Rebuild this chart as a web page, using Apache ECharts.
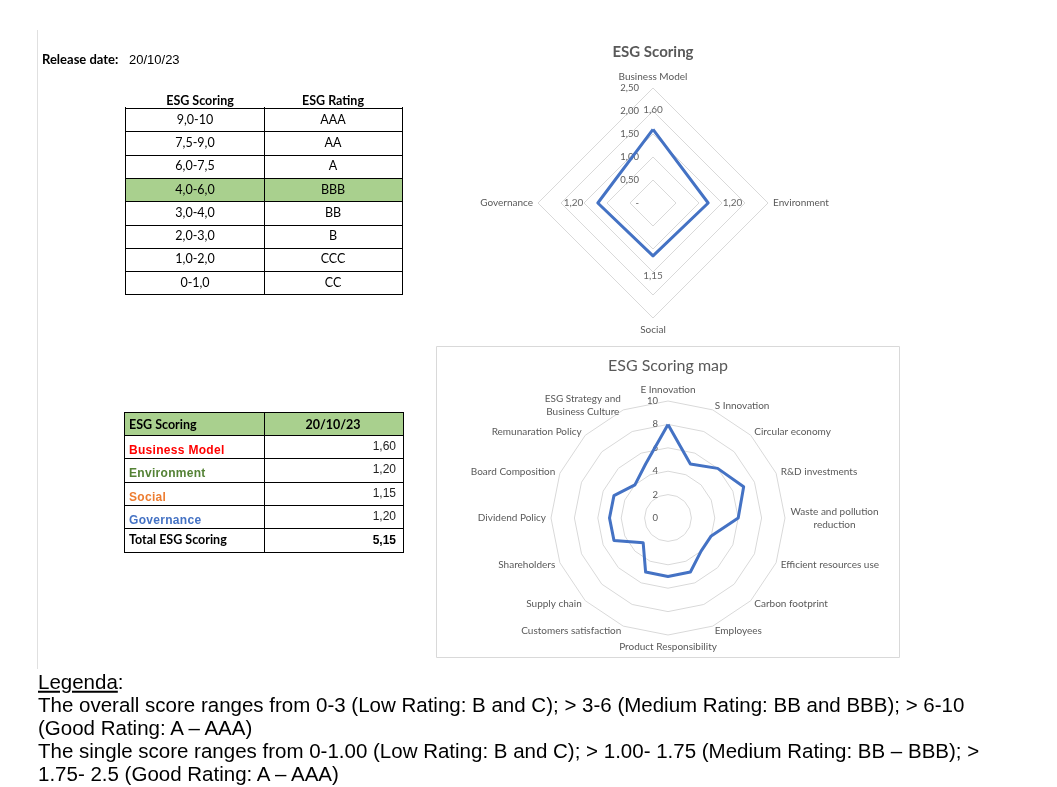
<!DOCTYPE html>
<html>
<head>
<meta charset="utf-8">
<title>ESG Scoring</title>
<script src="https://cdn.jsdelivr.net/npm/echarts@6.0.0/dist/echarts.min.js"></script>
<style>
  html,body{margin:0;padding:0;background:#fff;}
  body{width:1057px;height:787px;position:relative;overflow:hidden;}
  #chart{position:absolute;left:0;top:0;width:1057px;height:787px;}
  #overlay{position:absolute;left:0;top:0;width:1057px;height:787px;}
  .t{position:absolute;white-space:nowrap;line-height:1;}
  .cal{font-family:Lato,'Noto Sans',sans-serif;}
  .ari{font-family:'Liberation Sans',Arial,sans-serif;}
  .ln{position:absolute;background:#000;}
  .bx{position:absolute;}
</style>
</head>
<body>
<div id="chart"></div>
<div id="overlay"></div>
<script>
// ---------------- data ----------------
const releaseLabel = 'Release date:';
const releaseDate = '20/10/23';
const scaleHeaders = ['ESG Scoring', 'ESG Rating'];
const scoreRanges = ['9,0-10', '7,5-9,0', '6,0-7,5', '4,0-6,0', '3,0-4,0', '2,0-3,0', '1,0-2,0', '0-1,0'];
const ratingGrades = ['AAA', 'AA', 'A', 'BBB', 'BB', 'B', 'CCC', 'CC'];
const currentGrade = 'BBB';

const summaryHeaders = ['ESG Scoring', '20/10/23'];
const pillarNames = ['Business Model', 'Environment', 'Social', 'Governance'];
const pillarScores = [1.60, 1.20, 1.15, 1.20];
const totalLabel = 'Total ESG Scoring';
const totalScore = 5.15;
const pillarMax = 2.5;

const mapNames = ['E Innovation', 'S Innovation', 'Circular economy', 'R&D investments',
  'Waste and pollution\nreduction', 'Efficient resources use', 'Carbon footprint', 'Employees',
  'Product Responsibility', 'Customers satisfaction', 'Supply chain', 'Shareholders',
  'Dividend Policy', 'Board Composition', 'Remunaration Policy', 'ESG Strategy and\nBusiness Culture'];
const mapScores = [8, 5, 6, 7, 6, 4, 4, 5, 5, 5, 3, 5, 5, 5, 4, 5];
const mapMax = 10;

const chartTitles = ['ESG Scoring', 'ESG Scoring map'];
const legendTitle = 'Legenda';
const legendLines = [
  'The overall score ranges from 0-3 (Low Rating: B and C); > 3-6 (Medium Rating: BB and BBB); > 6-10',
  '(Good Rating: A \u2013 AAA)',
  'The single score ranges from 0-1.00 (Low Rating: B and C); > 1.00- 1.75 (Medium Rating: BB \u2013 BBB); >',
  '1.75- 2.5 (Good Rating: A \u2013 AAA)'
];

// ---------------- styles ----------------
const pillarColors = ['#FF0000', '#548235', '#ED7D31', '#4472C4'];
const pillarLabelPos = ['top', 'right', 'bottom', 'left'];
const lineBlue = '#4472C4', gridGrey = '#D9D9D9', textGrey = '#595959';

// ---------------- HTML part (tables, texts) ----------------
const overlay = document.getElementById('overlay');
function put(text, x, y, o) {
  o = o || {};
  const d = document.createElement('div');
  d.className = 't ' + (o.cls || 'cal');
  d.textContent = text;
  const ax = o.align === 'center' ? -50 : (o.align === 'right' ? -100 : 0);
  d.style.left = x + 'px';
  d.style.top = y + 'px';
  d.style.transform = 'translate(' + ax + '%,-50%)';
  d.style.fontSize = (o.size || 12) + 'px';
  if (o.bold) d.style.fontWeight = 'bold';
  d.style.color = o.color || '#000';
  if (o.ls) d.style.letterSpacing = o.ls + 'px';
  overlay.appendChild(d);
  return d;
}
function hline(x1, x2, y, c) {
  const d = document.createElement('div'); d.className = 'ln';
  d.style.left = x1 + 'px'; d.style.top = y + 'px'; d.style.width = (x2 - x1 + 1) + 'px'; d.style.height = '1px';
  if (c) d.style.background = c; overlay.appendChild(d);
}
function vline(x, y1, y2, c) {
  const d = document.createElement('div'); d.className = 'ln';
  d.style.left = x + 'px'; d.style.top = y1 + 'px'; d.style.height = (y2 - y1 + 1) + 'px'; d.style.width = '1px';
  if (c) d.style.background = c; overlay.appendChild(d);
}
function box(x, y, w, h, c) {
  const d = document.createElement('div'); d.className = 'bx';
  d.style.left = x + 'px'; d.style.top = y + 'px'; d.style.width = w + 'px'; d.style.height = h + 'px';
  d.style.background = c; overlay.appendChild(d);
}
function comma2(v) { return v === 0 ? '-' : Number(v).toFixed(2).replace('.', ','); }

// page margin line
vline(37, 30, 668, '#E0E0E0');

// release date
put(releaseLabel, 42, 59, {bold: true, size: 13});
put(releaseDate, 129, 59, {cls: 'ari', size: 13});

// rating scale table
(function () {
  const X = [125, 264, 402], Y0 = 108, RH = 23.3;
  const gi = ratingGrades.indexOf(currentGrade);
  box(X[0], Y0 + gi * RH, X[2] - X[0], RH, '#A9D08E');
  put(scaleHeaders[0], 200, 101, {bold: true, size: 12.5, align: 'center'});
  put(scaleHeaders[1], 333, 101, {bold: true, size: 12.5, align: 'center'});
  for (let i = 0; i <= scoreRanges.length; i++) hline(X[0], X[2], Math.round(Y0 + i * RH));
  X.forEach(x => vline(x, Y0 - 1, Math.round(Y0 + scoreRanges.length * RH)));
  scoreRanges.forEach((r, i) => {
    const cy = Y0 + (i + 0.5) * RH;
    put(r, 195, cy, {size: 12.5, align: 'center'});
    put(ratingGrades[i], 333, cy, {size: 12.5, align: 'center'});
  });
})();

// summary table
(function () {
  const X = [124, 264, 403], Y0 = 411.7, RH = 23.3;
  const nRows = pillarNames.length + 2;
  box(X[0], Y0, X[2] - X[0], RH, '#A9D08E');
  for (let i = 0; i <= nRows; i++) hline(X[0], X[2], Math.round(Y0 + i * RH));
  X.forEach(x => vline(x, Math.round(Y0), Math.round(Y0 + nRows * RH)));
  put(summaryHeaders[0], 129, Y0 + 0.55 * RH, {bold: true, size: 12.5});
  put(summaryHeaders[1], 333, Y0 + 0.55 * RH, {bold: true, size: 12.5, align: 'center'});
  pillarNames.forEach((n, i) => {
    const cy = Y0 + (i + 1.65) * RH;
    put(n, 129, cy, {cls: 'ari', bold: true, size: 12, color: pillarColors[i], ls: 0.3});
    put(comma2(pillarScores[i]), 396, cy - 4, {cls: 'ari', size: 12, align: 'right', color: '#222'});
  });
  const ty = Y0 + (nRows - 0.5) * RH;
  put(totalLabel, 129, ty, {bold: true, size: 12.5});
  put(comma2(totalScore), 396, ty, {cls: 'ari', bold: true, size: 12, align: 'right'});
})();

// legend text
(function () {
  const d = put('', 38, 682, {cls: 'ari', size: 20.5});
  d.innerHTML = '<span style="text-decoration:underline">' + legendTitle + '</span>:';
  legendLines.forEach((l, i) => put(l, 38, 705 + i * 23, {cls: 'ari', size: 20.5}));
})();

// ---------------- ECharts part ----------------
const chart = echarts.init(document.getElementById('chart'));

// ECharts radar runs counter-clockwise, Excel clockwise
function ccw(a) { return [a[0]].concat(a.slice(1).reverse()); }

const measureCtx = document.createElement('canvas').getContext('2d');
function textW(s, size) { measureCtx.font = size + 'px Lato'; return Math.ceil(measureCtx.measureText(s).width); }

const mapNameSize = 10;
const mapRich = {};
mapNames.forEach((n, i) => {
  if (n.indexOf('\n') >= 0) {
    const w = Math.max.apply(null, n.split('\n').map(s => textW(s, mapNameSize)));
    mapRich['m' + i] = {width: w, align: 'center', fontSize: mapNameSize, fontFamily: 'Lato', color: textGrey, lineHeight: 13};
  }
});

function radarCfg(center, radius, names, max, nameSize, labelSize, labelMargin, rich) {
  return {
    center: center, radius: radius, startAngle: 90, shape: 'polygon', splitNumber: 5,
    nameGap: 5,
    indicator: ccw(names).map((n, i) => i === 0 ? {name: n, min: 0, max: max, axisLabel: {show: true}} : {name: n, min: 0, max: max}),
    axisName: {
      color: textGrey, fontSize: nameSize, fontFamily: 'Lato', lineHeight: 13,
      formatter: function (name) {
        const idx = names.indexOf(name);
        if (rich && name.indexOf('\n') >= 0) return name.split('\n').map(s => '{m' + idx + '|' + s + '}').join('\n');
        return name;
      },
      rich: rich || {}
    },
    axisLine: {show: false},
    axisTick: {show: false},
    splitLine: {lineStyle: {color: gridGrey, width: 1}},
    splitArea: {show: false},
    axisLabel: {
      show: false, color: textGrey, fontSize: labelSize, fontFamily: 'Lato', margin: labelMargin,
      formatter: max === pillarMax ? comma2 : (v => String(v))
    }
  };
}

const option = {
  animation: false,
  textStyle: {fontFamily: 'Lato'},
  graphic: [
    {type: 'rect', shape: {x: 436.5, y: 346.5, width: 463, height: 311}, style: {fill: 'none', stroke: gridGrey, lineWidth: 1}, silent: true},
    {type: 'text', x: 653, y: 52, style: {text: chartTitles[0], textAlign: 'center', textVerticalAlign: 'middle', font: 'bold 15px Lato', fill: textGrey}},
    {type: 'text', x: 668, y: 366, style: {text: chartTitles[1], textAlign: 'center', textVerticalAlign: 'middle', font: '16px Lato', fill: textGrey}}
  ],
  radar: [
    radarCfg([653, 203], 115, pillarNames, pillarMax, 10, 9.5, 14, null),
    radarCfg([668, 518], 117, mapNames, mapMax, mapNameSize, 9.5, 10, mapRich)
  ],
  polar: [{center: [653, 203], radius: 115}],
  angleAxis: [{polarIndex: 0, type: 'category', data: pillarNames, startAngle: 90, clockwise: true, boundaryGap: false, show: false}],
  radiusAxis: [{polarIndex: 0, type: 'value', min: 0, max: pillarMax, show: false}],
  series: [
    {
      type: 'radar', radarIndex: 0, symbol: 'none', silent: true,
      lineStyle: {color: lineBlue, width: 3}, itemStyle: {color: lineBlue},
      data: [{name: 'ESG Scoring', value: ccw(pillarScores)}]
    },
    {
      type: 'radar', radarIndex: 1, symbol: 'none', silent: true,
      lineStyle: {color: lineBlue, width: 3}, itemStyle: {color: lineBlue},
      data: [{name: 'ESG Scoring map', value: ccw(mapScores)}]
    },
    {
      type: 'scatter', coordinateSystem: 'polar', polarIndex: 0, symbolSize: 1, silent: true,
      itemStyle: {color: 'rgba(0,0,0,0)'},
      label: {show: true, distance: 14, fontSize: 10, fontFamily: 'Lato', color: '#404040', formatter: p => comma2(p.value[0])},
      data: pillarNames.map((n, i) => ({value: [pillarScores[i], i], label: {position: pillarLabelPos[i]}}))
    }
  ]
};
chart.setOption(option);
</script>
</body>
</html>
